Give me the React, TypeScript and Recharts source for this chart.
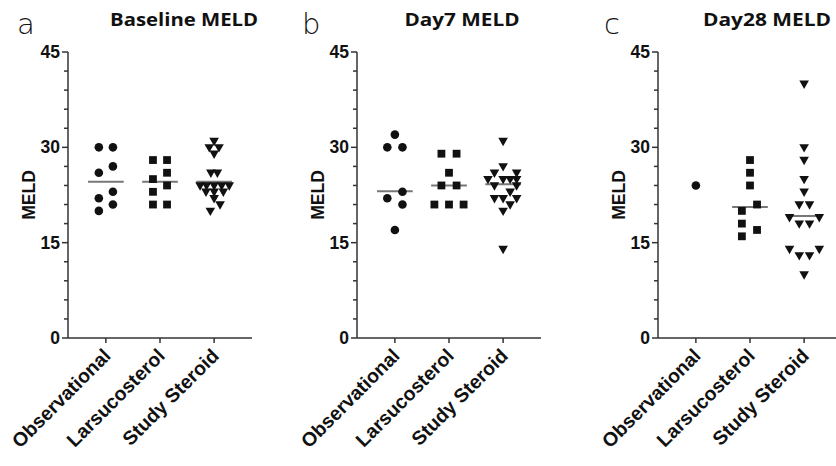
import React from 'react';
import { ScatterChart, Scatter, XAxis, YAxis, ReferenceLine } from 'recharts';

const groups = ['Observational', 'Larsucosterol', 'Study Steroid'];
const yTicks = [0, 3, 6, 9, 12, 15, 18, 21, 24, 27, 30, 33, 36, 39, 42, 45];
const panelTitles = ['Baseline MELD', 'Day7 MELD', 'Day28 MELD'];
const panelLetters = ['a', 'b', 'c'];

// Baseline MELD
const baseObs = [30, 30, 27, 26, 23, 22, 21, 20];
const baseObsJit = [-0.13, 0.13, 0.13, -0.13, 0.13, -0.13, 0.13, -0.13];
const baseLar = [28, 28, 26, 25, 24, 23, 21, 21];
const baseLarJit = [-0.13, 0.13, 0.13, -0.13, 0.13, -0.13, -0.13, 0.13];
const baseSte = [31, 30, 30, 29, 26, 26, 24, 24, 24, 24, 24, 23, 23, 23, 22, 21, 20];
const baseSteJit = [0, -0.09, 0.09, 0, -0.06, 0.06, -0.26, -0.14, 0, 0.14, 0.28, -0.15, 0, 0.17, 0, 0.11, -0.07];
const baseMedians = [24.6, 24.6, 24.6];

// Day7 MELD
const d7Obs = [32, 30, 30, 23, 22, 21, 17];
const d7ObsJit = [0, -0.14, 0.14, 0.14, -0.14, 0.14, 0];
const d7Lar = [29, 29, 26, 24, 24, 21, 21, 21];
const d7LarJit = [-0.14, 0.14, 0, -0.14, 0.14, -0.27, 0, 0.27];
const d7Ste = [31, 27, 26, 26, 25, 25, 25, 25, 24, 24, 23, 22, 22, 22, 21, 20, 14];
const d7SteJit = [0, 0, -0.16, 0.25, -0.28, 0, 0.13, 0.25, -0.16, 0.25, 0.13, -0.16, 0, 0.25, 0.13, 0, 0];
const d7Medians = [23.1, 24, 24.2];

// Day28 MELD
const d28Obs = [24];
const d28ObsJit = [0];
const d28Lar = [28, 26, 24, 21, 20, 18, 17, 16];
const d28LarJit = [0, 0, 0, 0.13, -0.15, -0.15, 0.13, -0.15];
const d28Ste = [40, 30, 28, 25, 23, 21, 21, 19, 19, 18, 18, 14, 14, 13, 13, 10];
const d28SteJit = [0, 0, 0, 0, 0, -0.09, 0.1, -0.27, 0.28, -0.09, 0.1, -0.27, 0.28, -0.09, 0.1, 0];
const d28Medians: (number | null)[] = [null, 20.6, 19.2];

const toPoints = (vals: number[], jit: number[], g: number) =>
  vals.map((v, i) => ({ x: g + jit[i], y: v }));

const panels = [
  { sets: [[baseObs, baseObsJit], [baseLar, baseLarJit], [baseSte, baseSteJit]], medians: baseMedians, left: 0 },
  { sets: [[d7Obs, d7ObsJit], [d7Lar, d7LarJit], [d7Ste, d7SteJit]], medians: d7Medians, left: 289 },
  { sets: [[d28Obs, d28ObsJit], [d28Lar, d28LarJit], [d28Ste, d28SteJit]], medians: d28Medians, left: 590 },
];

const AXIS = '#333';
const INK = '#111';
const LABEL_FONT = '"Liberation Sans", Arial, sans-serif';

const CircleShape = (p: any) => <circle cx={p.cx} cy={p.cy} r={4.3} fill={INK} />;
const SquareShape = (p: any) => <rect x={p.cx - 3.9} y={p.cy - 3.9} width={7.8} height={7.8} fill={INK} />;
const TriShape = (p: any) => (
  <polygon
    points={`${p.cx - 4.8},${p.cy - 3.2} ${p.cx + 4.8},${p.cy - 3.2} ${p.cx},${p.cy + 5.2}`}
    fill={INK}
  />
);
const shapes = [CircleShape, SquareShape, TriShape];

const YTick = (props: any) => {
  const { x, y, payload } = props;
  const major = payload.value % 15 === 0;
  return (
    <g>
      <line x1={x - (major ? 6 : 4)} x2={x} y1={y} y2={y} stroke={AXIS} strokeWidth={1.5} />
      {major && (
        <text x={x - 8} y={y + 6} textAnchor="end" fontFamily={LABEL_FONT} fontWeight="bold" fontSize={17.5} fill={INK}>
          {payload.value}
        </text>
      )}
    </g>
  );
};

const XTick = (props: any) => {
  const { x, y, payload } = props;
  const ax = x + 6;
  const ay = y + 19;
  return (
    <g>
      <line x1={x} x2={x} y1={y} y2={y + 5} stroke={AXIS} strokeWidth={1.5} />
      <text
        x={ax}
        y={ay}
        transform={`rotate(-45, ${ax}, ${ay})`}
        textAnchor="end"
        fontFamily={LABEL_FONT}
        fontWeight="bold"
        fontSize={19.5}
        fill={INK}
      >
        {groups[payload.value]}
      </text>
    </g>
  );
};

const Panel = ({ panel }: { panel: typeof panels[number] }) => (
  <div style={{ position: 'absolute', left: panel.left, top: 0 }}>
    <ScatterChart width={260} height={466} margin={{ top: 52, right: 8, bottom: 0, left: 0 }}>
      <XAxis
        type="number"
        dataKey="x"
        domain={[-0.7, 2.7]}
        ticks={[0, 1, 2]}
        interval={0}
        allowDataOverflow
        height={128}
        tickSize={0}
        tickMargin={0}
        tickLine={false}
        axisLine={{ stroke: AXIS, strokeWidth: 1.5 }}
        tick={<XTick />}
      />
      <YAxis
        type="number"
        dataKey="y"
        domain={[0, 45]}
        ticks={yTicks}
        interval={0}
        allowDataOverflow
        width={68}
        tickSize={0}
        tickMargin={0}
        tickLine={false}
        axisLine={{ stroke: AXIS, strokeWidth: 1.5 }}
        tick={<YTick />}
      />
      {panel.sets.map(([vals, jit], g) => (
        <Scatter
          key={g}
          data={toPoints(vals as number[], jit as number[], g)}
          shape={shapes[g]}
          isAnimationActive={false}
        />
      ))}
      {panel.medians.map((m, g) =>
        m == null ? null : (
          <ReferenceLine
            key={'m' + g}
            segment={[{ x: g - 0.33, y: m }, { x: g + 0.33, y: m }]}
            stroke="#777"
            strokeWidth={2}
          />
        )
      )}
    </ScatterChart>
  </div>
);

const titleCenters = [184, 462, 767];
const titleWidths = [148, 115, 128];
const letterX = [17, 302, 604];

export default function App() {
  return (
    <div style={{ position: 'absolute', left: 0, top: 0, width: 836, height: 466, overflow: 'hidden', background: '#fff' }}>
      {panels.map((p, i) => (
        <Panel key={i} panel={p} />
      ))}
      <svg width={836} height={466} style={{ position: 'absolute', left: 0, top: 0, pointerEvents: 'none' }}>
        {panelTitles.map((t, i) => (
          <text
            key={t}
            x={titleCenters[i]}
            y={26}
            textAnchor="middle"
            fontFamily='"Open Sans", sans-serif'
            fontWeight="bold"
            fontSize={17.5}
            textLength={titleWidths[i]}
            lengthAdjust="spacingAndGlyphs"
            fill={INK}
          >
            {t}
          </text>
        ))}
        {panelLetters.map((l, i) => (
          <text key={l} x={letterX[i]} y={34} fontFamily='"DejaVu Sans", sans-serif' fontWeight={200} fontSize={29} fill={INK}>
            {l}
          </text>
        ))}
        {panels.map((p, i) => (
          <text
            key={'meld' + i}
            x={p.left + 35}
            y={195}
            transform={`rotate(-90, ${p.left + 35}, 195)`}
            textAnchor="middle"
            fontFamily={LABEL_FONT}
            fontWeight="bold"
            fontSize={17.5}
            fill={INK}
          >
            MELD
          </text>
        ))}
      </svg>
    </div>
  );
}
